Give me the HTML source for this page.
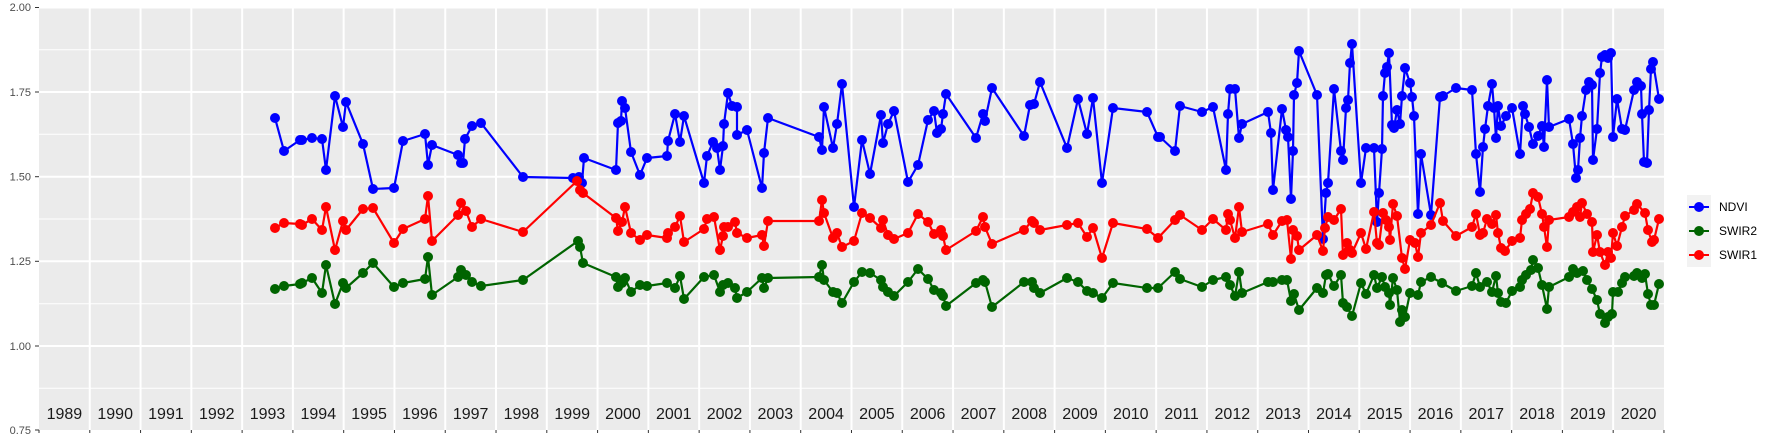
<!DOCTYPE html>
<html><head><meta charset="utf-8"><style>
html,body{margin:0;padding:0;background:#fff;}
svg{display:block;font-family:"Liberation Sans",sans-serif;}
</style></head><body>
<svg id="s" width="1773" height="442" viewBox="0 0 1773 442" xmlns="http://www.w3.org/2000/svg">
<rect x="39" y="7" width="1625" height="423" fill="#ebebeb"/>
<g stroke="#fff" stroke-width="1">
<line x1="39" x2="1664" y1="49.7" y2="49.7"/><line x1="39" x2="1664" y1="134.3" y2="134.3"/>
<line x1="39" x2="1664" y1="219" y2="219"/><line x1="39" x2="1664" y1="303.7" y2="303.7"/>
<line x1="39" x2="1664" y1="388.3" y2="388.3"/>
</g>
<g stroke="#fff" stroke-width="2" id="maj">
<line x1="39" x2="1664" y1="7.5" y2="7.5"/><line x1="39" x2="1664" y1="92" y2="92"/>
<line x1="39" x2="1664" y1="176.7" y2="176.7"/><line x1="39" x2="1664" y1="261.3" y2="261.3"/>
<line x1="39" x2="1664" y1="346" y2="346"/>
</g>
<g id="yl" font-size="11" fill="#4d4d4d" text-anchor="end">
<text x="31" y="11">2.00</text><text x="31" y="96">1.75</text><text x="31" y="180.5">1.50</text>
<text x="31" y="265">1.25</text><text x="31" y="350">1.00</text><text x="31" y="434">0.75</text>
</g>
<g stroke="#333" stroke-width="1">
<line x1="35" x2="39" y1="7.5" y2="7.5"/><line x1="35" x2="39" y1="92" y2="92"/><line x1="35" x2="39" y1="176.7" y2="176.7"/>
<line x1="35" x2="39" y1="261.3" y2="261.3"/><line x1="35" x2="39" y1="346" y2="346"/><line x1="35" x2="39" y1="430" y2="430"/>
</g>
<g id="vg"></g>
<g id="series"></g>
<rect x="1687" y="195" width="24" height="72" fill="#f2f2f2"/>
<g stroke-width="2">
<line x1="1689" x2="1709" y1="207" y2="207" stroke="#0000ff"/><circle cx="1699" cy="207" r="5" fill="#0000ff"/>
<line x1="1689" x2="1709" y1="231" y2="231" stroke="#006400"/><circle cx="1699" cy="231" r="5" fill="#006400"/>
<line x1="1689" x2="1709" y1="255" y2="255" stroke="#ff0000"/><circle cx="1699" cy="255" r="5" fill="#ff0000"/>
</g>
<g font-size="12" fill="#000">
<text x="1719" y="211">NDVI</text><text x="1719" y="235">SWIR2</text><text x="1719" y="259">SWIR1</text>
</g>
</svg>
<script>
var NS="http://www.w3.org/2000/svg";
var vg=document.getElementById('vg');
var h='';
for(var i=0;i<=32;i++){var x=39+i*50.78;
 if(i>0&&i<32)h+='<line x1="'+x+'" x2="'+x+'" y1="7" y2="430" stroke="#fff" stroke-width="2"/>';
 h+='<line x1="'+x+'" x2="'+x+'" y1="430" y2="433" stroke="#333" stroke-width="1"/>';
 if(i<32)h+='<text x="'+(x+25.4)+'" y="419" font-size="16" text-anchor="middle" fill="#1a1a1a">'+(1989+i)+'</text>';}
vg.innerHTML=h;
var B="275,118 284,151 300,140 302,140 312,138 322,139 326,170 335,96 343,127 346,102 363,144 373,189 394,188 403,141 425,134 428,165 432,145 458,155 461,163 463,163 465,139 472,126 481,123 523,177 573,178 579,177 582,183 584,158 616,170 618,123 621,121 622,101 625,108 631,152 640,175 647,158 667,156 668,141 675,114 680,142 684,116 704,183 707,156 713,142 717,148 720,170 723,146 724,124 728,93 732,106 737,107 737,135 747,130 762,188 764,153 768,118 819,137 822,150 824,107 833,148 837,124 842,84 854,207 862,140 870,174 881,115 883,143 888,124 894,111 908,182 918,165 928,120 934,111 937,133 941,129 943,114 946,94 976,138 983,114 985,121 992,88 1024,136 1030,105 1034,104 1040,82 1067,148 1078,99 1087,134 1093,98 1102,183 1113,108 1147,112 1158,137 1160,137 1175,151 1180,106 1202,112 1213,107 1226,170 1228,114 1230,89 1235,89 1239,138 1242,124 1268,112 1271,133 1273,190 1282,109 1286,130 1288,137 1291,199 1293,151 1294,95 1297,83 1299,51 1317,95 1323,239 1326,193 1328,183 1334,89 1341,151 1343,160 1346,108 1348,100 1350,63 1352,44 1361,183 1366,148 1374,148 1377,222 1379,193 1382,149 1383,96 1385,73 1387,67 1389,53 1392,125 1394,128 1397,110 1400,124 1402,96 1405,68 1410,83 1412,97 1414,116 1418,214 1421,154 1431,215 1440,97 1443,96 1456,88 1472,90 1476,154 1480,192 1483,147 1485,129 1488,106 1492,84 1494,108 1496,138 1498,106 1501,126 1506,116 1512,108 1520,154 1523,106 1525,114 1529,127 1533,144 1538,136 1542,126 1544,147 1547,80 1549,127 1569,119 1573,144 1576,178 1578,170 1580,138 1582,116 1586,90 1589,82 1592,85 1593,160 1597,129 1600,73 1602,57 1605,55 1608,58 1611,53 1613,137 1617,99 1622,129 1625,130 1634,90 1637,82 1641,86 1642,114 1644,162 1647,163 1649,110 1651,69 1653,62 1659,99";
var R="275,228 284,223 300,224 302,225 312,219 322,230 326,207 335,250 343,221 346,230 363,209 373,208 394,243 403,229 425,219 428,196 432,241 458,215 461,203 466,211 472,227 481,219 523,232 577,181 580,190 583,193 616,218 618,231 622,222 625,207 631,233 640,240 647,235 667,238 668,233 675,227 680,216 684,242 704,229 707,219 714,217 720,250 723,236 724,227 728,227 735,222 737,233 747,238 762,235 764,246 768,221 819,221 822,200 824,213 833,238 837,233 842,247 854,241 862,213 870,218 881,228 883,220 888,235 894,239 908,233 918,214 928,222 934,234 941,230 943,236 946,250 976,231 983,217 985,227 992,244 1024,230 1032,221 1034,223 1040,230 1067,225 1078,223 1087,237 1093,228 1102,258 1113,223 1147,229 1158,238 1175,220 1180,215 1202,230 1213,219 1226,230 1228,214 1230,220 1235,238 1239,207 1242,232 1268,224 1273,235 1282,221 1287,220 1291,259 1293,230 1297,236 1299,250 1317,235 1323,251 1325,228 1328,217 1334,220 1341,209 1343,255 1347,243 1350,250 1352,253 1361,233 1366,249 1374,212 1377,243 1379,245 1383,213 1386,220 1389,227 1390,240 1393,204 1397,216 1402,258 1405,269 1410,240 1415,243 1418,257 1421,233 1431,225 1440,203 1443,221 1456,236 1472,227 1476,214 1480,235 1483,233 1487,219 1492,224 1496,215 1498,233 1501,248 1505,251 1512,241 1520,238 1522,220 1526,214 1530,209 1533,193 1538,197 1542,214 1544,227 1547,247 1549,220 1569,217 1573,212 1577,207 1580,217 1582,203 1587,214 1592,222 1593,252 1597,235 1600,252 1605,265 1608,252 1611,258 1613,233 1617,246 1622,227 1625,216 1634,210 1637,204 1645,213 1648,230 1652,242 1654,240 1659,219";
var G="275,289 284,286 300,284 302,283 312,278 322,293 326,265 335,304 343,283 346,288 363,273 373,263 394,287 403,283 425,279 428,257 432,295 458,277 461,270 466,275 472,282 481,286 523,280 578,241 580,247 583,263 616,277 618,287 622,283 625,278 631,292 640,285 647,286 667,283 675,288 680,276 684,299 704,277 714,275 720,292 723,285 728,283 735,288 737,298 747,292 762,278 764,288 768,278 819,277 822,265 824,280 833,292 837,293 842,303 854,282 862,272 870,273 881,280 883,287 888,292 894,296 908,282 918,269 928,279 934,290 941,293 943,296 946,306 976,283 983,280 985,282 992,307 1024,282 1032,282 1034,288 1040,293 1067,278 1078,282 1087,291 1093,293 1102,298 1113,283 1147,288 1158,288 1175,272 1180,279 1202,287 1213,280 1226,277 1230,285 1235,296 1239,272 1242,293 1268,282 1273,282 1282,280 1287,280 1291,301 1294,294 1299,310 1317,288 1323,293 1326,275 1328,274 1334,286 1341,275 1343,303 1347,307 1352,316 1361,283 1366,294 1374,275 1377,288 1382,277 1385,287 1389,293 1390,305 1393,278 1397,290 1400,322 1402,310 1405,317 1410,293 1418,295 1421,282 1431,277 1442,283 1456,291 1472,286 1476,273 1480,287 1487,282 1492,292 1496,276 1498,293 1501,302 1506,303 1512,291 1520,287 1522,280 1526,275 1531,270 1533,260 1538,268 1542,285 1547,309 1549,287 1569,277 1573,269 1577,273 1583,271 1587,280 1592,289 1597,300 1600,314 1605,323 1608,317 1612,314 1613,292 1618,292 1622,283 1625,277 1634,276 1637,273 1642,278 1645,274 1648,294 1651,305 1654,305 1659,284";
var s=document.getElementById('series'),o='';
[[B,'#0000ff'],[G,'#006400'],[R,'#ff0000']].forEach(function(d){
 o+='<polyline points="'+d[0]+'" fill="none" stroke="'+d[1]+'" stroke-width="2.2" stroke-linejoin="round"/>';
 d[0].split(' ').forEach(function(p){var q=p.split(',');o+='<circle cx="'+q[0]+'" cy="'+q[1]+'" r="5" fill="'+d[1]+'"/>';});
});
s.innerHTML=o;
</script>
</body></html>
